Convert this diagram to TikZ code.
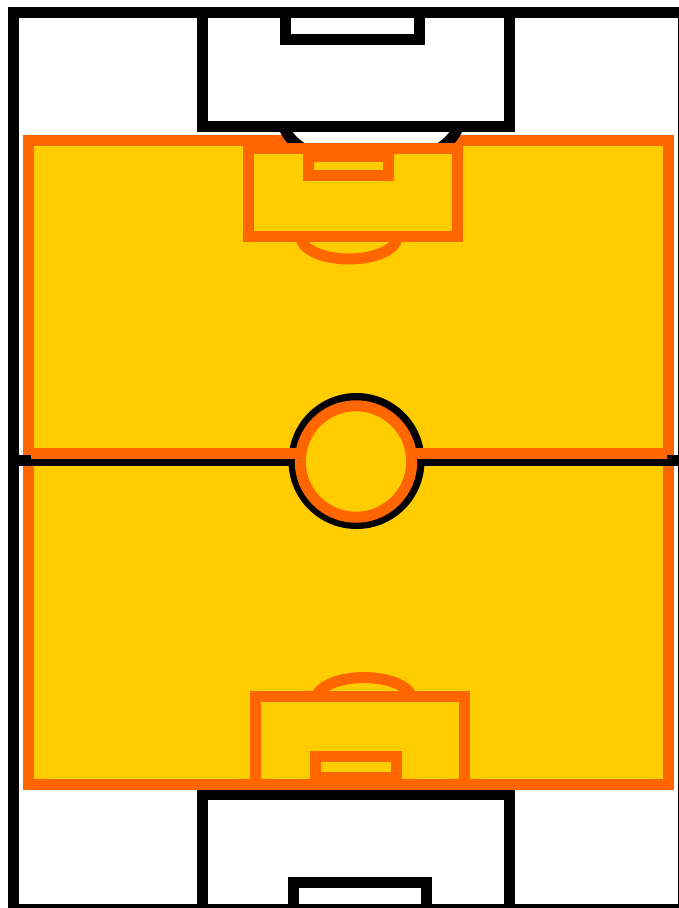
\documentclass[tikz,border=0pt]{standalone}
\usepackage{xcolor}
\definecolor{pitchfill}{HTML}{FFCC00}
\definecolor{pitchline}{HTML}{FF6600}
\tikzset{
  blackline/.style={draw=black, line width=8.25pt},
  orangeline/.style={draw=pitchline, line width=8.25pt},
}
\begin{document}
\begin{tikzpicture}[x=0.75pt, y=-0.75pt]
	\useasboundingbox (0, 0) rectangle (679, 908);
	\clip (0, 0) rectangle (679, 908);
	\fill[white] (0, 0) rectangle (679, 908);

	% black pitch
	\draw[blackline] (13.5, 12.5) rectangle (683.5, 909.5);
	\draw[blackline] (285.5, 12.5) rectangle (419.5, 39.5);
	\draw[blackline] (202.5, 909.5) rectangle (509.5, 794.5);
	\draw[blackline] (293.5, 909.5) rectangle (426.5, 882.5);

	% orange pitch
	\draw[orangeline, fill=pitchfill] (28.5, 140.5) rectangle (668.5, 784.5);

	% top arc, cuts into the orange
	\draw[blackline, fill=white] (283.9, 126.3) arc[start angle=172, end angle=8, x radius=88, y radius=45];
	\draw[blackline] (202.5, 12.5) rectangle (509.5, 126.5);

	% halfway line and circle, black
	\draw[blackline] (13.5, 460.5) -- (683.5, 460.5);
	\draw[blackline] (356.5, 461) circle (62.5);

	% halfway line and circle, orange
	\draw[orangeline] (31, 453.5) -- (667, 453.5);
	\draw[orangeline, fill=pitchfill] (356, 461.5) circle (55.75);

	% top end
	\draw[orangeline, fill=pitchfill] (248.5, 148.5) rectangle (457.5, 236.5);
	\draw[orangeline] (308.5, 156.5) rectangle (388.5, 175.5);
	\draw[orangeline] (301, 237) arc[start angle=180, end angle=0, x radius=48, y radius=22];

	% bottom end
	\draw[orangeline] (255.5, 696.5) rectangle (464.5, 784.5);
	\draw[orangeline] (315.5, 756.5) rectangle (396.5, 777.5);
	\draw[orangeline] (316, 699.5) arc[start angle=180, end angle=360, x radius=48, y radius=22];
\end{tikzpicture}
\end{document}
